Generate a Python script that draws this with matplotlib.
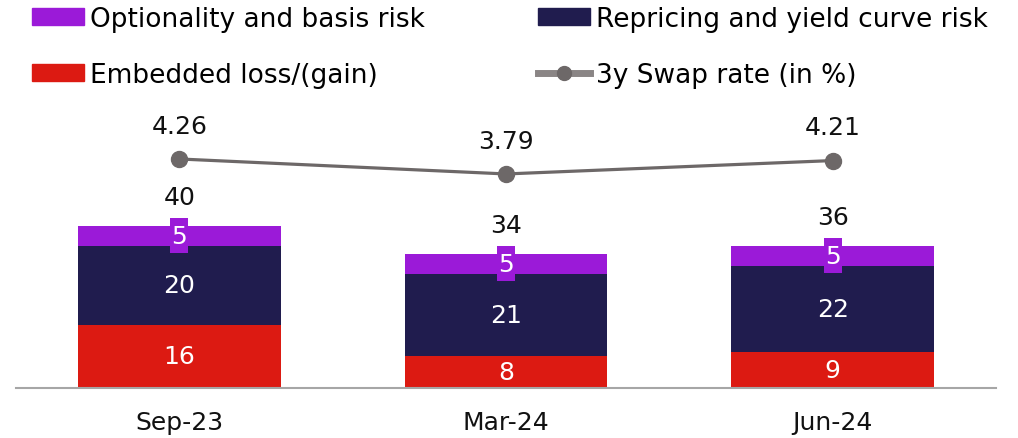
import matplotlib.pyplot as plt
from matplotlib.lines import Line2D
from matplotlib.patches import Patch
import numpy as np

plt.rcParams['font.family'] = ['DejaVu Sans']

categories = ["Sep-23", "Mar-24", "Jun-24"]
embedded = [16, 8, 9]
repricing = [20, 21, 22]
optionality = [5, 5, 5]
totals = [40, 34, 36]
swap_rate = [4.26, 3.79, 4.21]

c_opt = "#9b1ad8"
c_rep = "#201c4e"
c_emb = "#dc1a12"
c_line = "#6d6868"
fs = 18

fig = plt.figure(figsize=(10.18, 4.39), dpi=100)
ax = fig.add_axes([16 / 1018, 50 / 439, 980 / 1018, 289 / 439])

x = np.arange(len(categories))
w = 0.62
ax.bar(x, embedded, w, color=c_emb)
ax.bar(x, repricing, w, bottom=embedded, color=c_rep)
bottom3 = np.array(embedded) + np.array(repricing)
ax.bar(x, optionality, w, bottom=bottom3, color=c_opt)

for i in range(len(x)):
    ax.text(x[i], embedded[i] / 2, str(embedded[i]), ha="center", va="center",
            color="white", fontsize=fs)
    ax.text(x[i], embedded[i] + repricing[i] / 2, str(repricing[i]), ha="center",
            va="center", color="white", fontsize=fs)
    ax.text(x[i], bottom3[i] + optionality[i] / 2, str(optionality[i]), ha="center",
            va="center", color="white", fontsize=fs,
            bbox=dict(boxstyle="square,pad=0.04", facecolor=c_opt, edgecolor="none",
                      mutation_aspect=5.5))
    top = bottom3[i] + optionality[i]
    ax.annotate(str(totals[i]), (x[i], top), xytext=(0, 21), textcoords="offset points",
                ha="center", va="center", fontsize=fs, color="#111111")

ax.set_xlim(-0.5, 2.5)
ax.set_ylim(0, 73.2)
ax.set_xticks(x)
ax.set_xticklabels(categories, fontsize=fs, color="#111111")
ax.tick_params(axis="x", length=0, pad=16)
ax.set_yticks([])
for s in ["top", "left", "right"]:
    ax.spines[s].set_visible(False)
ax.spines["bottom"].set_color("#a6a6a6")
ax.spines["bottom"].set_linewidth(1.5)

ax2 = ax.twinx()
ax2.plot(x, swap_rate, color=c_line, lw=2.3, marker="o", ms=11.5)
for i in range(len(x)):
    ax2.annotate(f"{swap_rate[i]:.2f}", (x[i], swap_rate[i]), xytext=(0, 24),
                 textcoords="offset points", ha="center", va="center",
                 fontsize=fs, color="#111111")
ax2.set_ylim(-2.92, 6.14)
ax2.set_yticks([])
for s in ["top", "left", "right", "bottom"]:
    ax2.spines[s].set_visible(False)

handles = [
    Patch(color=c_opt, label="Optionality and basis risk"),
    Patch(color=c_emb, label="Embedded loss/(gain)"),
    Patch(color=c_rep, label="Repricing and yield curve risk"),
    Line2D([], [], color="#8a8585", lw=5, marker="o", ms=10,
           markerfacecolor=c_line, markeredgecolor=c_line, label="3y Swap rate (in %)"),
]
fig.legend(handles=handles, ncol=2, loc="upper left",
           bbox_to_anchor=(32 / 1018, 1 - 7 / 439), frameon=False, fontsize=19,
           handlelength=1.97, handleheight=0.62, handletextpad=0.23,
           labelspacing=1.12, columnspacing=4.3, borderpad=0, borderaxespad=0)

fig.savefig("out.png", dpi=100)
